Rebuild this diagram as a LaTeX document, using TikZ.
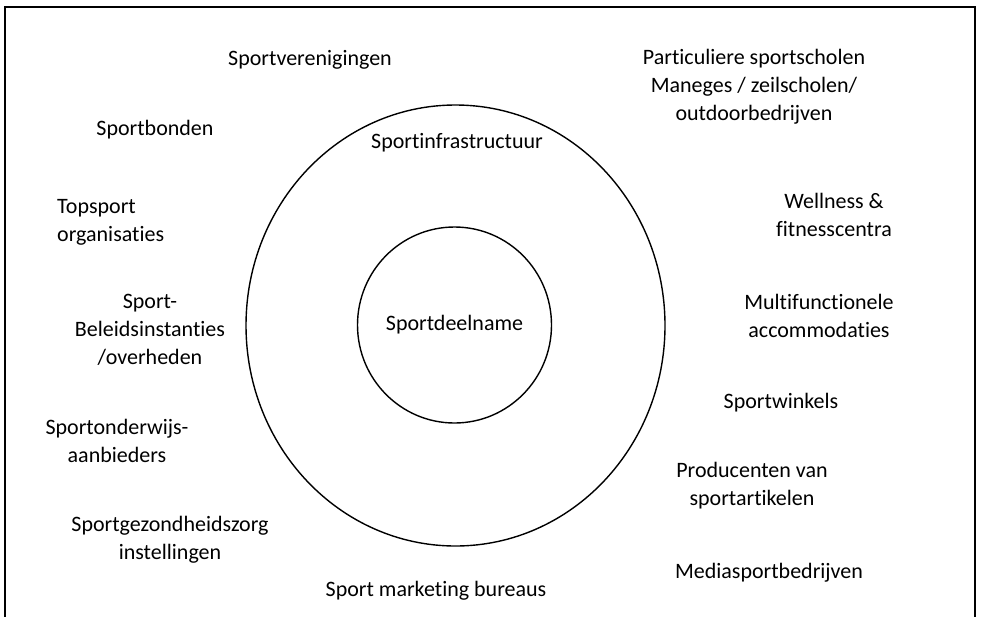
\documentclass[tikz,border=0pt]{standalone}
\usepackage{fontspec}
\setmainfont{Carlito}[Ligatures=NoCommon]
\usetikzlibrary{shapes.geometric,positioning}

\begin{document}
\begin{tikzpicture}[x=1pt, y=-1pt,
		every node/.style={font=\fontsize{22}{28}\selectfont, align=center, inner sep=0pt},
		ring/.style={draw, ellipse, line width=1.4pt}]
		\useasboundingbox (0,0) rectangle (981,616);
		% Define frame
		\coordinate (FrameBL) at (5,625);
		\coordinate (FrameTR) at (975,7);
		\draw[line width=1.4pt] (FrameBL) |- (FrameTR) -- (FrameTR |- FrameBL);
		
		% Define rings
		\node[ring, minimum width=419pt, minimum height=441pt] (Infra_Ring) at (455.5,325.5) {};
		\node[ring, minimum width=179pt, minimum height=196pt] (Deelname) at (454.5,325) {Sportdeelname};
		\node (Infrastructuur) at (457,143) {Sportinfrastructuur};
		
		% Define left side
		\node (Verenigingen) at (310,60) {Sportverenigingen};
		\node (Bonden) at (155,130) {Sportbonden};
		\node[align=left, anchor=west] (Topsport) at (57,222) {Topsport\\organisaties};
		\node (Beleid) at (150,330) {Sport-\\Beleidsinstanties\\/overheden};
		\node (Onderwijs) at (117,441) {Sportonderwijs-\\aanbieders};
		\node (Gezondheid) at (170,540) {Sportgezondheidszorg\\instellingen};
		\node (Marketing) at (436,591) {Sport marketing bureaus};
		
		% Define right side
		\node (Particulier) at (754,87) {Particuliere sportscholen\\Maneges / zeilscholen/\\outdoorbedrijven};
		\node (Wellness) at (834,215) {Wellness \&\\fitnesscentra};
		\node (Multi) at (819,316) {Multifunctionele\\accommodaties};
		\node (Winkels) at (781,403) {Sportwinkels};
		\node (Producenten) at (752,486) {Producenten van\\sportartikelen};
		\node (Media) at (769,573) {Mediasportbedrijven};
	\end{tikzpicture}
\end{document}
